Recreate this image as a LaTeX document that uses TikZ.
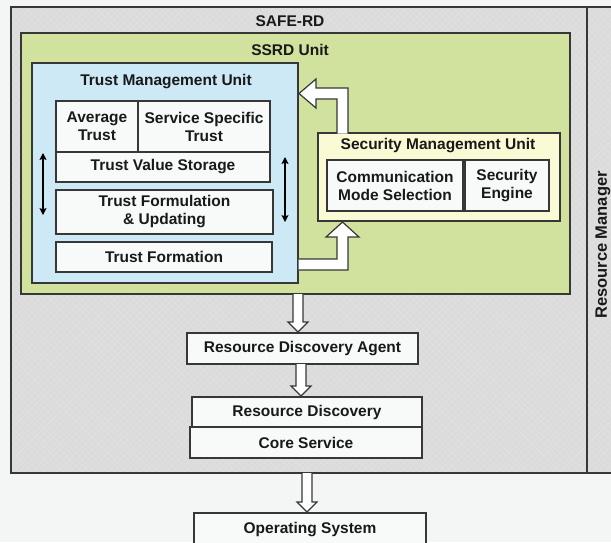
\documentclass[tikz,border=0pt]{standalone}
\usepackage{fontspec}
\setmainfont{Liberation Sans}
\usetikzlibrary{calc,arrows.meta,patterns.meta}

\definecolor{paper}{RGB}{244,246,246}
\definecolor{shade}{RGB}{219,219,219}
\definecolor{hatch}{RGB}{227,227,227}
\definecolor{ssrdgreen}{RGB}{208,226,158}
\definecolor{tmublue}{RGB}{205,233,245}
\definecolor{smuyellow}{RGB}{250,250,212}
\definecolor{cellwhite}{RGB}{248,249,249}
\definecolor{edge}{RGB}{55,55,55}

% hollow block arrow pointing down: from node, to node, x of the shaft
\newcommand\hollowdown[3]{%
  \draw[blockarrow] let \p1=(#1.south), \p2=(#2.north) in
    (#3-5pt,\y1) -- (#3-5pt,\y2+11pt) -- (#3-10pt,\y2+11pt) -- (#3,\y2+1pt)
    -- (#3+10pt,\y2+11pt) -- (#3+5pt,\y2+11pt) -- (#3+5pt,\y1);}

\begin{document}
\begin{tikzpicture}[x=1pt,y=-1pt,
  every node/.style={font=\bfseries\fontsize{15.5}{18}\selectfont,
    text=black!90, inner sep=0pt, outer sep=0pt},
  frame/.style={draw=edge, line width=1.4pt},
  textured/.style={preaction={fill=shade},
    preaction={pattern={Lines[angle=45,distance=4.5pt,line width=.4pt]}, pattern color=hatch},
    preaction={pattern={Lines[angle=-45,distance=4.5pt,line width=.4pt]}, pattern color=hatch}},
  cell/.style={frame, fill=cellwhite, align=center},
  blockarrow/.style={draw=edge, line width=1.2pt, fill=white, line join=miter},
  twoway/.style={line width=1.1pt,
    {Stealth[length=7pt,width=7pt,inset=1.5pt]}-{Stealth[length=7pt,width=7pt,inset=1.5pt]}}]

\useasboundingbox (0,0) rectangle (611,542);
\clip (0,0) rectangle (611,542);
\fill[paper] (0,0) rectangle (611,542);

% SAFE-RD and the resource manager beside it
\node[frame, textured, minimum width=576, minimum height=466] (safe) at (299,240) {};
\node[frame, textured, minimum width=50, minimum height=466, anchor=west] (rman) at (safe.east) {};
\node[rotate=90, font=\bfseries\fontsize{16.5}{18}\selectfont] (rmantext) at (603,245) {Resource Manager};
\node (safetitle) at (290,21) {SAFE-RD};

% SSRD unit
\node[frame, fill=ssrdgreen, minimum width=549, minimum height=261] (ssrd) at (295.5,163.5) {};
\node (ssrdtitle) at (290,50) {SSRD Unit};

% trust management unit
\node[frame, fill=tmublue, minimum width=266, minimum height=220] (tmu) at (165,173) {};
\node (tmutitle) at (166,82) {Trust Management Unit};
\node[cell, minimum width=82, minimum height=51] (avg) at (97,126.5) {Average\\Trust};
\node[cell, minimum width=132, minimum height=51] (sst) at (204,126.5) {Service Specific\\Trust};
\node[cell, minimum width=214, minimum height=30] (tvs) at (163,167) {Trust Value Storage};
\node[cell, minimum width=217, minimum height=44] (tfu) at (164.5,212) {Trust Formulation\\\& Updating};
\node[cell, minimum width=216, minimum height=30] (tf) at (164,257) {Trust Formation};

\coordinate (ltop) at (43,153);
\coordinate (lbot) at (43,215);
\coordinate (rtop) at (285,157);
\coordinate (rbot) at (285,222);
\draw[twoway] (ltop) -- (lbot);
\draw[twoway] (rtop) -- (rbot);

% security management unit
\node[frame, fill=smuyellow, minimum width=242, minimum height=88] (smu) at (439,177) {};
\node (smutitle) at (438,146) {Security Management Unit};
\node[cell, minimum width=136, minimum height=51] (cms) at (395,185.5) {Communication\\Mode Selection};
\node[cell, minimum width=84, minimum height=51] (se) at (507,185.5) {Security\\Engine};

% feedback arrows between the two units
\draw[blockarrow] let \p1=(smu.north west), \p2=(tmu.north east) in
  (\x1+19pt,\y1-.7pt) -- (\x1+19pt,\y2-36pt) -- (\x2+18pt,\y2-36pt) -- (\x2+18pt,\y2-45pt)
  -- (\x2+1pt,\y2-30.5pt) -- (\x2+18pt,\y2-16pt) -- (\x2+18pt,\y2-25pt)
  -- (\x1+30pt,\y2-25pt) -- (\x1+30pt,\y1-.7pt);
\draw[blockarrow] let \p1=(tmu.south east), \p2=(smu.south west) in
  (\x1+.7pt,\y1+24pt) -- (\x2+19pt,\y1+24pt) -- (\x2+19pt,\y2-16pt) -- (\x2+8pt,\y2-16pt)
  -- (\x2+24.5pt,\y2-1pt) -- (\x2+41pt,\y2-16pt) -- (\x2+30pt,\y2-16pt)
  -- (\x2+30pt,\y1+13pt) -- (\x1+.7pt,\y1+13pt);

% discovery stack
\node[cell, minimum width=231, minimum height=31] (rda) at (302.5,348.5) {Resource Discovery Agent};
\node[cell, minimum width=230, minimum height=30] (rd) at (307,412) {Resource Discovery};
\node[cell, minimum width=232, minimum height=31] (cs) at (306,442.5) {Core Service};
\node[cell, minimum width=232, minimum height=33] (os) at (310,529.5) {Operating System};

\hollowdown{ssrd}{rda}{298pt}
\hollowdown{rda}{rd}{301pt}
\hollowdown{safe}{os}{307pt}

\end{tikzpicture}
\end{document}
